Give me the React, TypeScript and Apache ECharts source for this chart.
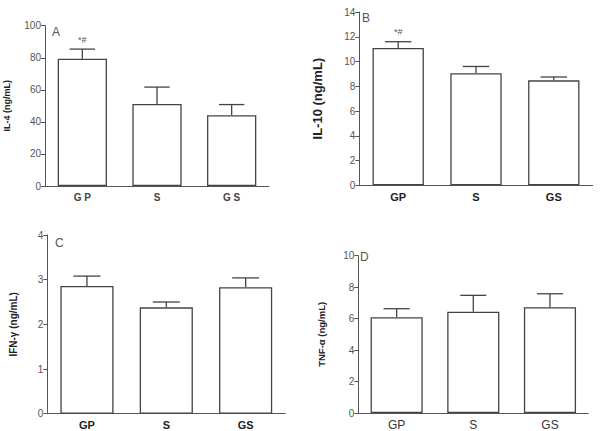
import React, { useEffect, useRef } from "react";
import * as echarts from "echarts";

const categoriesA = ["G P", "S", "G S"];
const categoriesB = ["GP", "S", "GS"];
const categoriesC = ["GP", "S", "GS"];
const categoriesD = ["GP", "S", "GS"];

const il4Mean = [79.4, 51.2, 44.2];
const il4Upper = [85.4, 61.7, 50.8];
const il10Mean = [11.1, 9.05, 8.48];
const il10Upper = [11.6, 9.6, 8.75];
const ifnMean = [2.86, 2.38, 2.83];
const ifnUpper = [3.08, 2.5, 3.04];
const tnfMean = [6.09, 6.44, 6.72];
const tnfUpper = [6.63, 7.48, 7.58];

const signifA = ["*#", "", ""];
const signifB = ["*#", "", ""];
const noSignif = ["", "", ""];

const yTitles = ["IL-4 (ng/mL)", "IL-10 (ng/mL)", "IFN-γ (ng/mL)", "TNF-α (ng/mL)"];
const yMaxes = [100, 14, 4, 10];
const yIntervals = [20, 2, 1, 2];
const panelLetters = ["A", "B", "C", "D"];

const AXIS = "#555";
const BAR = "#444";
const TXT = "#555";

export default function App() {
  const ref = useRef<HTMLDivElement>(null);
  useEffect(() => {
    if (!ref.current) return;
    const chart = echarts.init(ref.current, null, { renderer: "svg" });

    const grids = [
      { left: 45, top: 25.7, width: 224, height: 160.3 },
      { left: 359.3, top: 12, width: 233.4, height: 173.3 },
      { left: 47.3, top: 235, width: 238, height: 178.7 },
      { left: 358.3, top: 255.7, width: 230, height: 157.6 },
    ];
    const cats = [categoriesA, categoriesB, categoriesC, categoriesD];
    const means = [il4Mean, il10Mean, ifnMean, tnfMean];
    const uppers = [il4Upper, il10Upper, ifnUpper, tnfUpper];
    const signifs = [signifA, signifB, noSignif, noSignif];
    const xLabelStyle = [
      { fontSize: 10, fontWeight: "bold", color: "#444" },
      { fontSize: 11, fontWeight: "bold", color: "#222" },
      { fontSize: 11, fontWeight: "bold", color: "#222" },
      { fontSize: 12, fontWeight: "normal", color: "#333" },
    ];
    const nameStyle = [
      { fontSize: 9, gap: 34 },
      { fontSize: 13, gap: 35 },
      { fontSize: 10, gap: 29 },
      { fontSize: 9.5, gap: 32 },
    ];
    const barWidths = ["66%", "66%", "67%", "68%"];

    const series: any[] = [];
    for (let i = 0; i < 4; i++) {
      series.push({
        type: "bar",
        xAxisIndex: i,
        yAxisIndex: i,
        data: means[i],
        barWidth: barWidths[i],
        itemStyle: { color: "#fff", borderColor: BAR, borderWidth: 1.3 },
        silent: true,
      });
      const m = means[i];
      const u = uppers[i];
      const s = signifs[i];
      series.push({
        type: "custom",
        xAxisIndex: i,
        yAxisIndex: i,
        data: m.map((v, k) => [k, v, u[k]]),
        renderItem: (params: any, api: any) => {
          const k = api.value(0);
          const p0 = api.coord([k, api.value(1)]);
          const p1 = api.coord([k, api.value(2)]);
          const band = api.size([1, 0])[0];
          const half = band * 0.17;
          const children: any[] = [
            { type: "line", shape: { x1: p0[0], y1: p0[1], x2: p1[0], y2: p1[1] }, style: { stroke: BAR, lineWidth: 1.3 } },
            { type: "line", shape: { x1: p1[0] - half, y1: p1[1], x2: p1[0] + half, y2: p1[1] }, style: { stroke: BAR, lineWidth: 1.3 } },
          ];
          const lab = s[params.dataIndex];
          if (lab) {
            children.push({
              type: "text",
              style: { text: lab, x: p1[0], y: p1[1] - 5, align: "center", verticalAlign: "bottom", fontSize: 9, fill: "#555", fontFamily: "Arial, Liberation Sans, sans-serif" },
            });
          }
          return { type: "group", children };
        },
        silent: true,
        z: 5,
      });
    }

    const option: any = {
      animation: false,
      textStyle: { fontFamily: "Arial, 'Liberation Sans', sans-serif" },
      grid: grids,
      xAxis: grids.map((g, i) => ({
        type: "category",
        gridIndex: i,
        data: cats[i],
        axisLine: { lineStyle: { color: AXIS, width: 1 } },
        axisTick: { alignWithLabel: true, length: 3, lineStyle: { color: AXIS } },
        axisLabel: { ...xLabelStyle[i], margin: 6 },
      })),
      yAxis: grids.map((g, i) => ({
        type: "value",
        gridIndex: i,
        min: 0,
        max: yMaxes[i],
        interval: yIntervals[i],
        splitLine: { show: false },
        axisLine: { show: true, lineStyle: { color: AXIS, width: 1 } },
        axisTick: { show: true, length: 4, lineStyle: { color: AXIS } },
        axisLabel: { fontSize: 10, color: TXT, margin: 4 },
        name: yTitles[i],
        nameLocation: "middle",
        nameRotate: 90,
        nameGap: nameStyle[i].gap,
        nameTextStyle: { fontSize: nameStyle[i].fontSize, fontWeight: "bold", color: "#222" },
      })),
      graphic: [
        { type: "text", left: 52, top: 26, style: { text: panelLetters[0], fontSize: 12, fill: "#555" } },
        { type: "text", left: 362, top: 12, style: { text: panelLetters[1], fontSize: 12, fill: "#555" } },
        { type: "text", left: 55, top: 237, style: { text: panelLetters[2], fontSize: 12, fill: "#555" } },
        { type: "text", left: 360, top: 251, style: { text: panelLetters[3], fontSize: 12, fill: "#555" } },
      ],
      series,
    };
    chart.setOption(option);
    return () => chart.dispose();
  }, []);
  return (
    <div
      ref={ref}
      style={{ position: "fixed", left: 0, top: 0, width: 600, height: 431, background: "#fff" }}
    />
  );
}
